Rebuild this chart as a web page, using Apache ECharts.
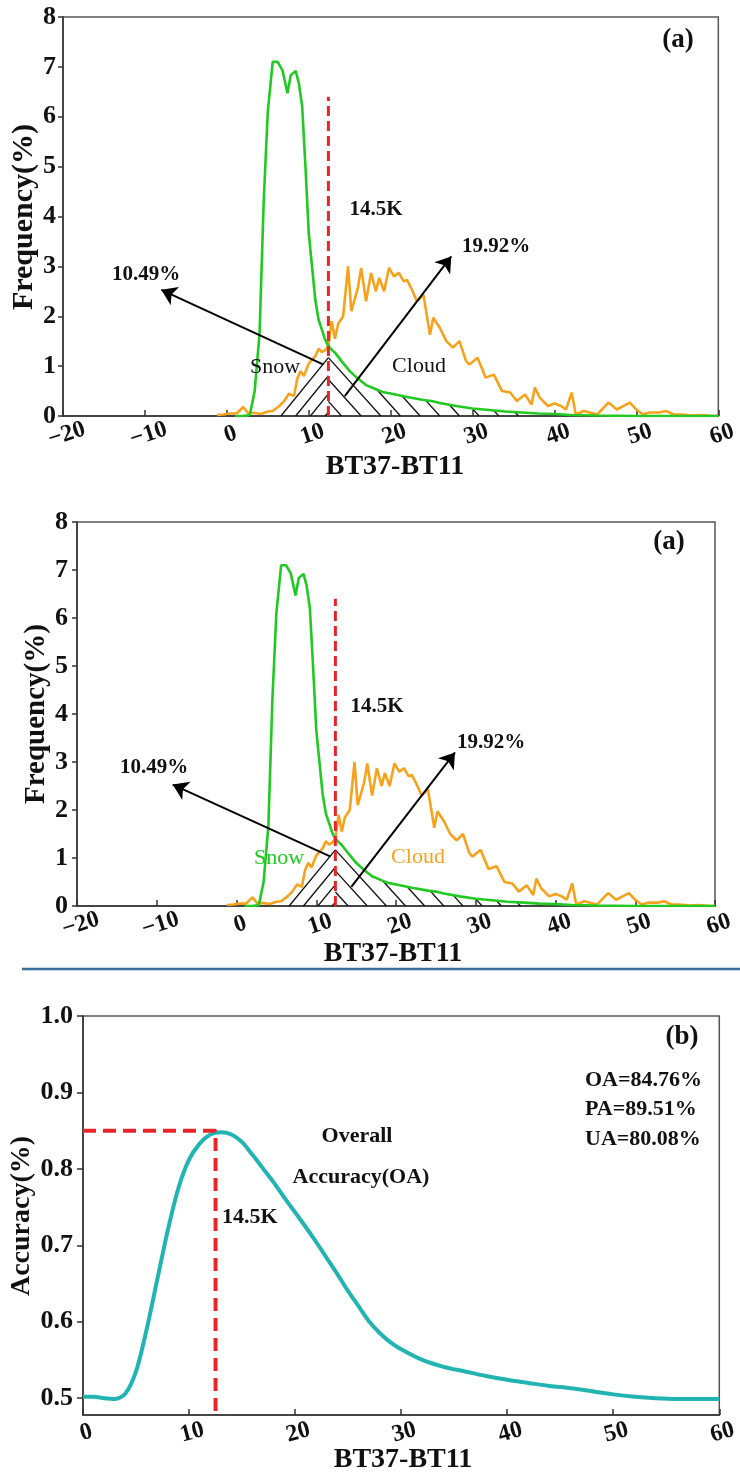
<!DOCTYPE html>
<html><head><meta charset="utf-8">
<script src="https://cdn.jsdelivr.net/npm/echarts@6/dist/echarts.min.js"></script>
<style>html,body{margin:0;padding:0;background:#fff;}#c{width:740px;height:1479px;}</style>
</head><body><div id="c"></div>
<script>
// ---------- DATA ----------
const snowX = [1, 2, 2.8, 3.4, 4, 4.5, 5, 5.6, 6.2, 6.8, 7.4, 7.8, 8.4, 8.8, 9.2, 9.6, 10, 10.4, 10.8, 11.2, 11.6, 12, 12.4, 12.8, 13.2, 14, 15, 16, 17, 18, 19, 20, 22, 24, 25, 26, 28, 30, 32, 34, 36, 38, 40, 42, 45, 50, 55, 60];
const snowY = [0, 0, 0.02, 0.5, 1.67, 4.3, 6.1, 7.1, 7.1, 6.93, 6.47, 6.83, 6.92, 6.67, 6.2, 5.0, 3.67, 3.0, 2.33, 1.93, 1.73, 1.53, 1.4, 1.33, 1.27, 1.1, 0.9, 0.75, 0.62, 0.55, 0.48, 0.45, 0.38, 0.32, 0.3, 0.26, 0.2, 0.15, 0.12, 0.09, 0.07, 0.05, 0.04, 0.02, 0.01, 0, 0, 0];

const cloudX = [-1.2, -0.4, 0.4, 1.2, 2.0, 2.6, 3.4, 4.2, 5.0, 5.6, 6.4, 7.0, 7.6, 8.2, 8.6, 9.0, 9.4, 10.0, 10.8, 11.2, 11.6, 12.0, 12.4, 12.8, 13.2, 13.6, 14.2, 14.8, 15.2, 16.0, 16.4, 17.0, 17.6, 18.2, 18.6, 19.2, 19.8, 20.4, 21.0, 21.6, 22.0, 22.6, 23.2, 24.0, 24.8, 25.2, 26.0, 26.8, 27.6, 28.4, 29.2, 29.6, 30.6, 31.6, 32.6, 33.6, 34.6, 35.4, 36.4, 37.2, 37.6, 38.2, 39.2, 40.0, 40.8, 41.4, 42.1, 42.6, 43.6, 45.2, 46.6, 47.6, 48.4, 49.2, 50.0, 50.8, 51.6, 52.8, 53.6, 54.6, 55.6, 56.8, 58.0, 59.4, 60];
const cloudY = [0.02, 0.03, 0.05, 0.05, 0.18, 0.06, 0.06, 0.04, 0.09, 0.1, 0.2, 0.3, 0.45, 0.4, 0.75, 0.9, 0.8, 1.05, 1.2, 1.35, 1.28, 1.32, 1.4, 1.9, 1.55, 1.85, 2.0, 3.0, 2.1, 2.57, 2.97, 2.3, 2.87, 2.5, 2.77, 2.5, 2.97, 2.8, 2.87, 2.7, 2.73, 2.53, 2.3, 2.43, 1.63, 1.97, 1.77, 1.5, 1.37, 1.5, 1.1, 1.03, 1.17, 0.77, 0.83, 0.5, 0.47, 0.3, 0.43, 0.23, 0.57, 0.37, 0.2, 0.25, 0.2, 0.13, 0.47, 0.03, 0.1, 0.03, 0.27, 0.13, 0.2, 0.27, 0.13, 0.03, 0.07, 0.07, 0.1, 0.03, 0.03, 0.01, 0.02, 0.0, 0.0];

const accX = [0, 1, 2, 3, 4, 5, 6, 7, 8, 9, 10, 11, 12, 13, 14, 15, 16, 17, 18, 19, 20, 21, 22, 23, 24, 25, 26, 27, 28, 29, 30, 32, 34, 36, 38, 40, 42, 44, 46, 48, 50, 52, 54, 56, 58, 60];
const accY = [0.502, 0.502, 0.5, 0.499, 0.506, 0.535, 0.59, 0.655, 0.72, 0.775, 0.812, 0.833, 0.845, 0.848, 0.845, 0.835, 0.818, 0.8, 0.782, 0.762, 0.743, 0.724, 0.704, 0.683, 0.662, 0.64, 0.62, 0.6, 0.585, 0.573, 0.564, 0.55, 0.541, 0.535, 0.529, 0.524, 0.52, 0.516, 0.513, 0.509, 0.505, 0.502, 0.5, 0.499, 0.499, 0.499];

const accTicks = [0.5, 0.6, 0.7, 0.8, 0.9, 1.0];
const threshold = 12.4;        // BT37-BT11 threshold (histograms)
const thresholdAcc = 12.5;     // threshold on accuracy panel
const peakAcc = 0.85;
const redTop = 6.4;
const apexH = 1.17;
const arrowLeft = [[11.8, 1.03], [-8.0, 2.53]];
const arrowRight = [[14.4, 0.4], [27.4, 3.2]];

// ---------- STYLE ----------
const FF = '"Liberation Serif","Times New Roman",serif';
const GREEN = '#22c922', ORANGE = '#f6a21c', RED = '#e8262a', TEAL = '#22b4b2';
const zip = (a, b) => a.map((v, i) => [v, b[i]]);
const snowData = zip(snowX, snowY), cloudData = zip(cloudX, cloudY), accData = zip(accX, accY);

function greenAt(x) {
  if (x <= snowX[0]) return snowY[0];
  for (let i = 1; i < snowX.length; i++) {
    if (x <= snowX[i]) {
      const t = (x - snowX[i - 1]) / (snowX[i] - snowX[i - 1]);
      return snowY[i - 1] + t * (snowY[i] - snowY[i - 1]);
    }
  }
  return snowY[snowY.length - 1];
}

function hatchRender(params, api) {
  const children = [];
  const T = threshold, H = apexH;
  const leftStart = 6.6, leftStep = 1.8;
  const m2 = H / (T - leftStart);
  const st = { stroke: '#111', lineWidth: 1.3 };
  for (let k = 0; k < 5; k++) {
    const xa = leftStart + k * leftStep;
    if (xa >= T) break;
    const p1 = api.coord([xa, 0]), p2 = api.coord([T, m2 * (T - xa)]);
    children.push({ type: 'line', shape: { x1: p1[0], y1: p1[1], x2: p2[0], y2: p2[1] }, style: st });
  }
  const base = 18.8, step = 2.4;
  const m = H / (base - T);
  for (let k = -3; k <= 7; k++) {
    const xb = base + k * step;
    if (xb <= T + 0.1) continue;
    let xe = T, ye = m * (xb - T);
    if (ye > greenAt(T)) {
      for (let x = xb; x >= T; x -= 0.02) {
        if (m * (xb - x) >= greenAt(x)) { xe = x; ye = m * (xb - x); break; }
      }
    }
    const p1 = api.coord([xb, 0]), p2 = api.coord([xe, ye]);
    children.push({ type: 'line', shape: { x1: p1[0], y1: p1[1], x2: p2[0], y2: p2[1] }, style: st });
  }
  return { type: 'group', children };
}

function histAxes(g) {
  return {
    x: {
      gridIndex: g, type: 'value', min: -20, max: 60, interval: 10,
      axisLine: { onZero: false, lineStyle: { color: '#333', width: 1.5 } },
      axisTick: { inside: true, length: 6, lineStyle: { color: '#333', width: 1.5 } },
      axisLabel: { rotate: 18, align: 'center', verticalAlign: 'top', margin: 7, color: '#111',
        fontFamily: FF, fontWeight: 'bold', fontSize: 24,
        formatter: v => String(v).replace('-', '\u2212') },
      splitLine: { show: false }
    },
    y: {
      gridIndex: g, type: 'value', min: 0, max: 8, interval: 1,
      axisLine: { show: true, onZero: false, lineStyle: { color: '#333', width: 1.5 } },
      axisTick: { show: true, inside: false, length: 5, lineStyle: { color: '#333', width: 1.5 } },
      axisLabel: { margin: g === 0 ? 7 : 9, color: '#111', fontFamily: FF, fontWeight: 'bold', fontSize: 26 },
      splitLine: { show: false }
    }
  };
}

function histSeries(g) {
  const ax = { xAxisIndex: g, yAxisIndex: g };
  const arrowML = (a) => ({
    silent: true, symbol: ['none', 'arrow'], symbolSize: 15, animation: false,
    label: { show: false },
    lineStyle: { color: '#000', width: 2, type: 'solid' },
    emphasis: { disabled: true },
    data: [[{ coord: a[0] }, { coord: a[1] }]]
  });
  return [
    { type: 'custom', ...ax, renderItem: hatchRender, data: [[0, 0]], silent: true, z: 2, animation: false },
    { type: 'line', ...ax, data: cloudData, showSymbol: false, lineStyle: { color: ORANGE, width: 2.6 }, z: 3, animation: false },
    { type: 'line', ...ax, data: snowData, showSymbol: false, lineStyle: { color: GREEN, width: 2.6 }, z: 4, animation: false },
    { type: 'line', ...ax, data: [[threshold, 0], [threshold, redTop]], showSymbol: false,
      lineStyle: { color: RED, width: 3, type: [10, 5] }, z: 5, animation: false },
    { type: 'line', ...ax, data: [], markLine: arrowML(arrowLeft), z: 6 },
    { type: 'line', ...ax, data: [], markLine: arrowML(arrowRight), z: 6 }
  ];
}

const a0 = histAxes(0), a1 = histAxes(1);
const gridBase = { show: true, borderColor: '#555', borderWidth: 1.5, containLabel: false };

function txt(text, x, y, size, opts) {
  opts = opts || {};
  return {
    type: 'text', x, y, rotation: opts.rot || 0, z: 100,
    style: { text, fill: opts.color || '#111', font: (opts.weight || 'bold') + ' ' + size + 'px ' + FF,
      align: opts.align || 'center', verticalAlign: 'middle' }
  };
}

const option = {
  backgroundColor: '#fff',
  animation: false,
  grid: [
    { ...gridBase, left: 63, top: 17, right: 13, height: 399 },
    { ...gridBase, left: 77, top: 522, right: 25, height: 384 },
    { ...gridBase, left: 83, top: 1016, right: 13, height: 399 }
  ],
  xAxis: [a0.x, a1.x, {
    gridIndex: 2, type: 'value', min: 0, max: 60, interval: 10,
    axisLine: { onZero: false, lineStyle: { color: '#333', width: 1.5 } },
    axisTick: { inside: true, length: 6, lineStyle: { color: '#333', width: 1.5 } },
    axisLabel: { rotate: 15, align: 'center', verticalAlign: 'top', margin: 6, color: '#111',
      fontFamily: FF, fontWeight: 'bold', fontSize: 24 },
    splitLine: { show: false }
  }],
  yAxis: [a0.y, a1.y, {
    gridIndex: 2, type: 'value', min: 0.478, max: 1.0,
    axisLine: { show: true, onZero: false, lineStyle: { color: '#333', width: 1.5 } },
    axisTick: { show: true, inside: false, length: 6, customValues: accTicks, lineStyle: { color: '#333', width: 1.5 } },
    axisLabel: { margin: 10, color: '#111', fontFamily: FF, fontWeight: 'bold', fontSize: 26,
      customValues: accTicks, formatter: v => Number(v).toFixed(1) },
    splitLine: { show: false }
  }],
  series: [
    ...histSeries(0),
    ...histSeries(1),
    { type: 'line', xAxisIndex: 2, yAxisIndex: 2, data: [[0, peakAcc], [thresholdAcc, peakAcc], [thresholdAcc, 0.478]],
      showSymbol: false, lineStyle: { color: RED, width: 4, type: [13, 7] }, z: 5 },
    { type: 'line', xAxisIndex: 2, yAxisIndex: 2, data: accData, smooth: 0.3, showSymbol: false,
      lineStyle: { color: TEAL, width: 4 }, z: 4 }
  ],
  graphic: [
    // panel 1
    txt('(a)', 678, 40, 27),
    txt('10.49%', 146, 275, 21),
    txt('19.92%', 496, 247, 21),
    txt('14.5K', 376, 210, 21),
    txt('Snow', 275, 367, 22, { weight: 'normal' }),
    txt('Cloud', 419, 366, 22, { weight: 'normal' }),
    txt('Frequency(%)', 24, 217, 30, { rot: Math.PI / 2 }),
    txt('BT37-BT11', 395, 467, 28),
    // panel 2
    txt('(a)', 669, 542, 27),
    txt('10.49%', 154, 768, 21),
    txt('19.92%', 491, 743, 21),
    txt('14.5K', 377, 707, 21),
    txt('Snow', 279, 858, 22, { weight: 'normal', color: GREEN }),
    txt('Cloud', 418, 857, 22, { weight: 'normal', color: ORANGE }),
    txt('Frequency(%)', 37, 714, 29, { rot: Math.PI / 2 }),
    txt('BT37-BT11', 393, 954, 28),
    // separator
    { type: 'line', z: 100, shape: { x1: 22, y1: 969, x2: 740, y2: 969 }, style: { stroke: '#3a6c9a', lineWidth: 2.5 } },
    // panel 3
    txt('(b)', 682, 1037, 27),
    txt('OA=84.76%', 585, 1080, 22, { align: 'left' }),
    txt('PA=89.51%', 585, 1109, 22, { align: 'left' }),
    txt('UA=80.08%', 585, 1139, 22, { align: 'left' }),
    txt('Overall', 357, 1136, 22),
    txt('Accuracy(OA)', 361, 1177, 22),
    txt('14.5K', 222, 1217, 22, { align: 'left' }),
    txt('Accuracy(%)', 22, 1216, 28, { rot: Math.PI / 2 }),
    txt('BT37-BT11', 403, 1460, 28)
  ]
};

const chart = echarts.init(document.getElementById('c'), null, { renderer: 'canvas' });
chart.setOption(option);
</script>
</body></html>
